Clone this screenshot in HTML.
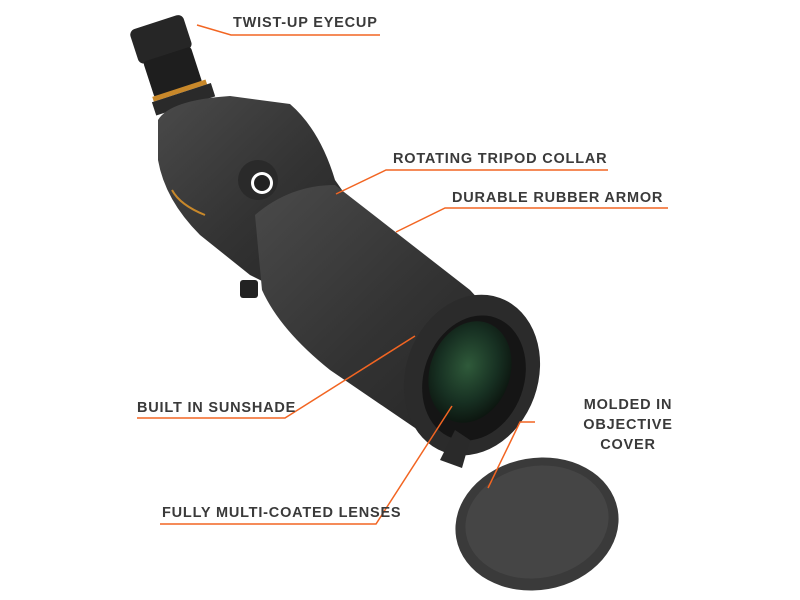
<!DOCTYPE html>
<html><head><style>
html,body{margin:0;padding:0;background:#fff;}
svg{display:block}
text{font-family:"Liberation Sans",sans-serif;font-weight:bold;font-size:14.5px;fill:#3a3a3a;letter-spacing:0.8px}
</style></head><body>
<svg width="800" height="600" viewBox="0 0 800 600">
<defs>
<linearGradient id="body" x1="0" y1="0" x2="1" y2="1">
<stop offset="0" stop-color="#4a4a4a"/><stop offset="0.5" stop-color="#333"/><stop offset="1" stop-color="#222"/>
</linearGradient>
<radialGradient id="lens" cx="0.45" cy="0.45" r="0.6">
<stop offset="0" stop-color="#2f5a3a"/><stop offset="0.6" stop-color="#173022"/><stop offset="1" stop-color="#0b120d"/>
</radialGradient>
</defs>
<!-- eyepiece -->
<g transform="rotate(-18 175 60)">
<rect x="140" y="18" width="56" height="36" rx="6" fill="#262626"/>
<rect x="144" y="52" width="50" height="38" rx="3" fill="#1e1e1e"/>
<rect x="142" y="88" width="56" height="5" fill="#c8882a"/>
<rect x="140" y="93" width="62" height="14" fill="#2a2a2a"/>
</g>
<!-- upper body -->
<path d="M158 120 Q170 100 230 96 L290 104 Q320 130 335 180 L370 230 L300 300 L250 275 L200 235 Q165 200 158 160 Z" fill="url(#body)"/>
<path d="M172 190 Q180 205 205 215" stroke="#c8882a" stroke-width="2" fill="none"/>
<!-- main tube -->
<path d="M255 215 Q290 185 335 185 L470 290 L525 350 L440 445 L330 370 Q280 330 262 290 Z" fill="url(#body)"/>
<circle cx="258" cy="180" r="20" fill="#2a2a2a"/>
<circle cx="262" cy="183" r="11" fill="#fff"/><circle cx="262" cy="183" r="8" fill="#222"/>
<rect x="240" y="280" width="18" height="18" rx="3" fill="#222"/>
<!-- objective -->
<ellipse cx="472" cy="375" rx="66" ry="82" transform="rotate(20 472 375)" fill="#2b2b2b"/>
<ellipse cx="474" cy="378" rx="50" ry="64" transform="rotate(20 474 378)" fill="#151515"/>
<ellipse cx="470" cy="372" rx="40" ry="52" transform="rotate(20 470 372)" fill="url(#lens)"/>
<!-- strap -->
<path d="M440 460 L455 430 L470 440 L462 468 Z" fill="#2a2a2a"/>
<!-- cover -->
<ellipse cx="537" cy="524" rx="82" ry="66" transform="rotate(-10 537 524)" fill="#3a3a3a"/>
<ellipse cx="537" cy="522" rx="72" ry="56" transform="rotate(-10 537 522)" fill="#454545"/>
<!-- leader lines -->
<g stroke="#f26522" stroke-width="1.5" fill="none">
<polyline points="197,25 231,35 380,35"/>
<polyline points="336,194 386,170 608,170"/>
<polyline points="396,232 445,208 668,208"/>
<polyline points="415,336 285,418 137,418"/>
<polyline points="452,406 376,524 160,524"/>
<polyline points="488,488 520,422 535,422"/>
</g>
<text x="233" y="27">TWIST-UP EYECUP</text>
<text x="393" y="163">ROTATING TRIPOD COLLAR</text>
<text x="452" y="202">DURABLE RUBBER ARMOR</text>
<text x="137" y="412">BUILT IN SUNSHADE</text>
<text x="162" y="517">FULLY MULTI-COATED LENSES</text>
<text x="628" y="409" text-anchor="middle">MOLDED IN</text>
<text x="628" y="429" text-anchor="middle">OBJECTIVE</text>
<text x="628" y="449" text-anchor="middle">COVER</text>
</svg>
</body></html>
